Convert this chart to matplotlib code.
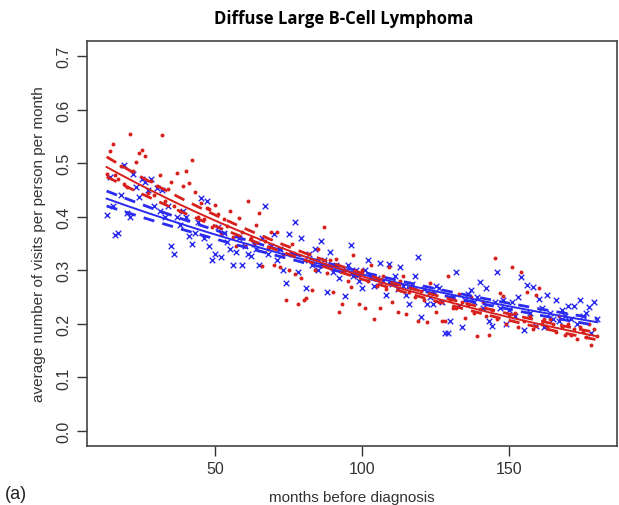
import numpy as np
import matplotlib
matplotlib.use("Agg")
import matplotlib.pyplot as plt

# months before diagnosis
months = list(range(13, 181))

# average number of visits per person per month (red dots)
red_vals = [
    0.480, 0.523, 0.535, 0.478, 0.470, 0.494, 0.462, 0.455, 0.554, 0.485, 0.502, 0.519,
    0.524, 0.513, 0.445, 0.466, 0.440, 0.458, 0.478, 0.552, 0.430, 0.451, 0.464, 0.420,
    0.481, 0.410, 0.457, 0.485, 0.463, 0.505, 0.446, 0.400, 0.425, 0.395, 0.416, 0.414,
    0.380, 0.422, 0.405, 0.370, 0.395, 0.383, 0.410, 0.362, 0.345, 0.398, 0.372, 0.345,
    0.430, 0.360, 0.350, 0.385, 0.407, 0.308, 0.355, 0.340, 0.372, 0.310, 0.371, 0.306,
    0.330, 0.244, 0.300, 0.350, 0.293, 0.237, 0.285, 0.244, 0.248, 0.330, 0.263, 0.300,
    0.340, 0.310, 0.380, 0.295, 0.320, 0.260, 0.321, 0.222, 0.237, 0.300, 0.280, 0.269,
    0.328, 0.290, 0.237, 0.300, 0.229, 0.280, 0.310, 0.209, 0.270, 0.229, 0.290, 0.265,
    0.306, 0.241, 0.275, 0.222, 0.280, 0.289, 0.218, 0.260, 0.270, 0.250, 0.205, 0.262,
    0.245, 0.203, 0.276, 0.259, 0.222, 0.240, 0.205, 0.205, 0.289, 0.245, 0.230, 0.229,
    0.255, 0.240, 0.211, 0.235, 0.250, 0.220, 0.177, 0.228, 0.240, 0.215, 0.179, 0.225,
    0.323, 0.210, 0.257, 0.252, 0.200, 0.215, 0.306, 0.220, 0.195, 0.296, 0.205, 0.259,
    0.215, 0.190, 0.254, 0.267, 0.200, 0.210, 0.195, 0.209, 0.200, 0.185, 0.215, 0.195,
    0.180, 0.200, 0.179, 0.190, 0.172, 0.195, 0.185, 0.175, 0.200, 0.160, 0.190, 0.178,
]

# blue crosses
blue_vals = [
    0.403, 0.475, 0.420, 0.366, 0.370, 0.440, 0.496, 0.407, 0.400, 0.480, 0.455, 0.437,
    0.470, 0.465, 0.450, 0.470, 0.420, 0.453, 0.410, 0.450, 0.400, 0.420, 0.345, 0.330,
    0.400, 0.385, 0.410, 0.400, 0.364, 0.350, 0.370, 0.390, 0.435, 0.360, 0.430, 0.345,
    0.320, 0.330, 0.380, 0.325, 0.370, 0.353, 0.340, 0.310, 0.334, 0.360, 0.310, 0.345,
    0.330, 0.326, 0.350, 0.340, 0.310, 0.360, 0.420, 0.330, 0.345, 0.367, 0.320, 0.340,
    0.300, 0.276, 0.367, 0.330, 0.390, 0.296, 0.360, 0.320, 0.267, 0.330, 0.310, 0.340,
    0.300, 0.355, 0.320, 0.260, 0.335, 0.296, 0.310, 0.285, 0.300, 0.252, 0.310, 0.347,
    0.290, 0.300, 0.280, 0.267, 0.300, 0.320, 0.290, 0.270, 0.285, 0.313, 0.280, 0.254,
    0.311, 0.275, 0.290, 0.265, 0.306, 0.270, 0.254, 0.237, 0.275, 0.290, 0.325, 0.213,
    0.265, 0.237, 0.250, 0.237, 0.270, 0.267, 0.240, 0.183, 0.183, 0.205, 0.250, 0.296,
    0.233, 0.194, 0.245, 0.255, 0.263, 0.240, 0.250, 0.278, 0.230, 0.267, 0.205, 0.196,
    0.240, 0.296, 0.230, 0.245, 0.200, 0.225, 0.240, 0.215, 0.250, 0.287, 0.188, 0.272,
    0.220, 0.268, 0.196, 0.246, 0.230, 0.194, 0.254, 0.220, 0.210, 0.244, 0.205, 0.225,
    0.215, 0.233, 0.210, 0.233, 0.200, 0.244, 0.215, 0.220, 0.231, 0.183, 0.240, 0.210,
]

x_ticks = [50, 100, 150]
y_ticks = [0.0, 0.1, 0.2, 0.3, 0.4, 0.5, 0.6, 0.7]

RED = "#d8201c"
BLUE = "#2a2af0"


def loglinear_fit(x, y, xs):
    x = np.asarray(x, float)
    ly = np.log(np.asarray(y, float))
    coef, cov = np.polyfit(x, ly, 1, cov=True)
    X = np.vstack([xs, np.ones_like(xs)]).T
    pred = X @ coef
    se = np.sqrt(np.einsum("ij,jk,ik->i", X, cov, X))
    return np.exp(pred), np.exp(pred - 1.96 * se), np.exp(pred + 1.96 * se)


plt.rcParams["font.family"] = ["Liberation Sans", "DejaVu Sans"]
fig = plt.figure(figsize=(6.19, 5.06), dpi=100)
ax = fig.add_axes([87 / 619, 1 - 447 / 506, (617 - 87) / 619, (447 - 42) / 506])

ax.scatter(months, blue_vals, marker="x", s=16, c=BLUE, linewidths=1.0, zorder=2)
ax.scatter(months, red_vals, marker="o", s=8, c=RED, linewidths=0, zorder=3)

xs = np.linspace(min(months), max(months), 200)
for vals, col in [(blue_vals, BLUE), (red_vals, RED)]:
    fit, lo, hi = loglinear_fit(months, vals, xs)
    ax.plot(xs, fit, color=col, lw=1.4, zorder=4)
    ax.plot(xs, lo, color=col, lw=2.0, ls=(0, (4, 3)), zorder=4)
    ax.plot(xs, hi, color=col, lw=2.0, ls=(0, (4, 3)), zorder=4)

span = max(months) - min(months)
ax.set_xlim(min(months) - 0.04 * span, max(months) + 0.04 * span)
ax.set_ylim(-0.028, 0.728)
ax.set_xticks(x_ticks)
ax.set_xticklabels([str(t) for t in x_ticks])
ax.set_yticks(y_ticks)
ax.set_yticklabels(["%.1f" % t for t in y_ticks], rotation=90, va="center")
ax.tick_params(direction="out", length=7, width=1, labelsize=11.5, colors="#333333",
               labelcolor="#333333", pad=4)
for sp in ax.spines.values():
    sp.set_color("#444444")
    sp.set_linewidth(1.2)

ax.set_xlabel("months before diagnosis", fontsize=11, color="#333333", labelpad=10)
ax.set_ylabel("average number of visits per person per month", fontsize=11,
              color="#333333", labelpad=8)
fig.text(0.555, 0.963, "Diffuse Large B-Cell Lymphoma", ha="center", va="center",
         fontsize=12, fontweight="bold", family=["Open Sans", "DejaVu Sans"])
fig.text(0.008, 0.022, "(a)", fontsize=13, ha="left", va="center", color="#222222")

fig.savefig("out.png", dpi=100)
